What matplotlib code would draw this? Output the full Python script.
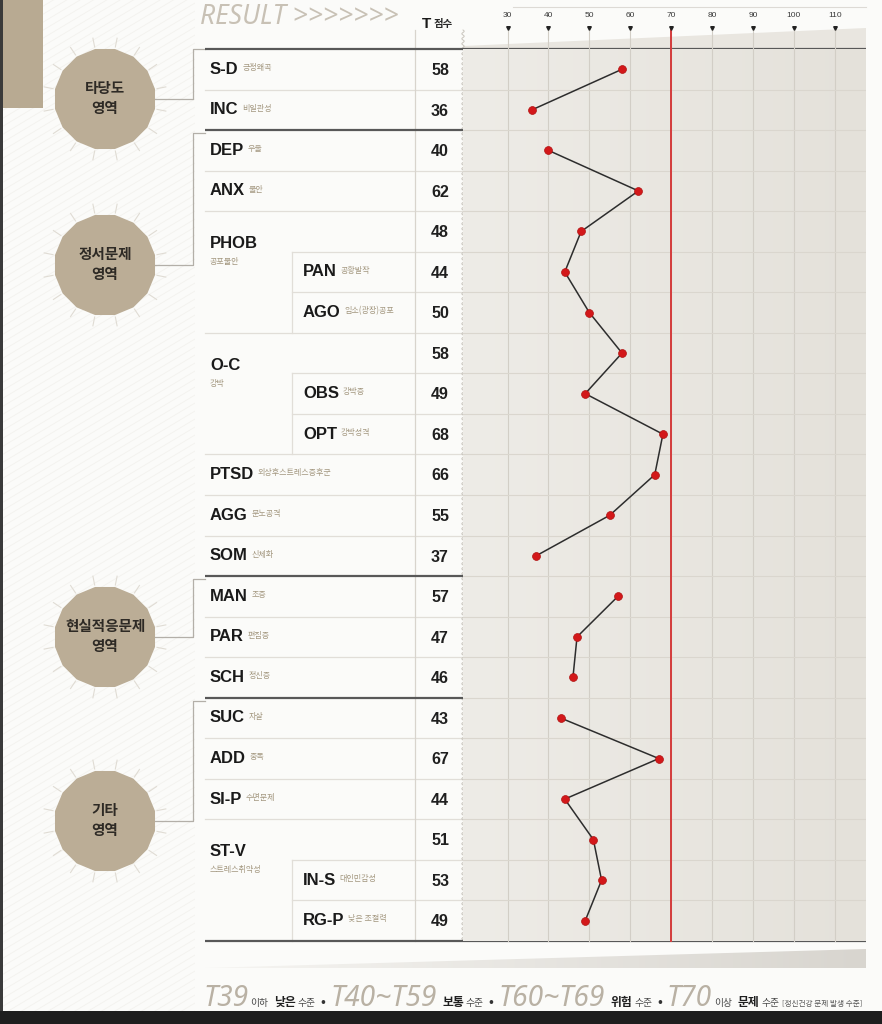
import numpy as np
import matplotlib
matplotlib.use("Agg")
import matplotlib.pyplot as plt
import matplotlib.transforms as mtransforms
from matplotlib.patches import RegularPolygon, Polygon, Rectangle
from matplotlib.colors import LinearSegmentedColormap

plt.rcParams['font.family'] = ['Liberation Sans', 'Noto Sans CJK KR', 'DejaVu Sans']

# ---- data ----
codes = ["S-D", "INC", "DEP", "ANX", "PHOB", "PAN", "AGO", "O-C", "OBS", "OPT",
         "PTSD", "AGG", "SOM", "MAN", "PAR", "SCH", "SUC", "ADD", "SI-P",
         "ST-V", "IN-S", "RG-P"]
names_kr = ["긍정왜곡", "비일관성", "우울", "불안", "공포불안", "공황발작", "임소(광장)공포",
            "강박", "강박증", "강박성격", "외상후스트레스증후군", "분노공격", "신체화",
            "조증", "편집증", "정신증", "자살", "중독", "수면문제",
            "스트레스취약성", "대인민감성", "낮은 조절력"]
t_scores = [58, 36, 40, 62, 48, 44, 50, 58, 49, 68, 66, 55, 37, 57, 47, 46,
            43, 67, 44, 51, 53, 49]
# 0 = plain scale, 1 = parent scale, 2 = sub scale
row_level = [0, 0, 0, 0, 1, 2, 2, 1, 2, 2, 0, 0, 0, 0, 0, 0, 0, 0, 0, 1, 2, 2]
groups = ["타당도\n영역", "정서문제\n영역", "현실적응문제\n영역", "기타\n영역"]
group_sizes = [2, 11, 3, 6]
x_ticks = [30, 40, 50, 60, 70, 80, 90, 100, 110]
cutoff = 70
legend_items = [("T39", "이하", "낮은", "수준"),
                ("T40~T59", "", "보통", "수준"),
                ("T60~T69", "", "위험", "수준"),
                ("T70", "이상", "문제", "수준")]
legend_note = "[정신건강 문제 발생 수준]"

KR = 'Noto Sans CJK KR'
THIN = dict(family=['Noto Sans', 'Roboto', 'DejaVu Sans'], style='italic',
            fontweight='light', fontstretch='condensed')

W, H = 882, 1024
fig = plt.figure(figsize=(W / 100, H / 100), dpi=100)
fig.patch.set_facecolor('#fbfbf9')

# background axes in pixel coords (y down)
bg = fig.add_axes([0, 0, 1, 1])
bg.axis('off')
bg.patch.set_visible(False)

# plot area
ax_l, ax_r, ax_t, ax_b = 463, 866, 49, 941
ax = fig.add_axes([ax_l / W, 1 - ax_b / H, (ax_r - ax_l) / W, (ax_b - ax_t) / H])
ax.axis('off')
ax.patch.set_visible(False)
n = len(codes)
px30, ppu = 507.5, 4.09
xlim = (30 + (ax_l - px30) / ppu, 30 + (ax_r - px30) / ppu)
ylim = (n - 0.5, -0.5)
row_h = (ax_b - ax_t) / n

tab = mtransforms.blended_transform_factory(bg.transData, ax.transData)
vax = mtransforms.blended_transform_factory(ax.transData, ax.transAxes)

# left decoration: faint diagonal stripes, tan block, dark edges
for c in range(0, 1250, 8):
    bg.plot([0, 200], [c, c - 120], color='#ebe8e3', lw=0.6, alpha=0.5, zorder=0)
bg.add_patch(Rectangle((195, 0), 700, 1024, color='#fbfbf9', zorder=0.5, lw=0))
bg.add_patch(Rectangle((3, 0), 40, 108, color='#b8aa92', zorder=1, lw=0))
bg.add_patch(Rectangle((0, 0), 2.5, 1012, color='#3a3a3a', zorder=1, lw=0))
bg.add_patch(Rectangle((0, 1011), W, 13, color='#1e1e1e', zorder=1, lw=0))

# plot background gradient + top wedge
grad = np.linspace(0, 1, 256).reshape(1, -1)
cm_plot = LinearSegmentedColormap.from_list('pbg', ['#eeece7', '#e4e1da'])
ax.imshow(grad, extent=[xlim[0], xlim[1], ylim[0], ylim[1]], aspect='auto',
          cmap=cm_plot, zorder=0)
bg.add_patch(Polygon([(ax_l, 46), (ax_r, 28), (ax_r, ax_t), (ax_l, ax_t)],
                     closed=True, facecolor='#e9e6e0', edgecolor='none', zorder=1))
bg.plot([513, ax_r], [7, 7], color='#dddad5', lw=0.8, zorder=1)

# bottom wedge
wedge = Polygon([(205, 968), (ax_r, 949), (ax_r, 968)], closed=True,
                facecolor='none', edgecolor='none')
bg.add_patch(wedge)
cm_wedge = LinearSegmentedColormap.from_list('wbg', ['#f6f5f2', '#d8d5cf'])
im = bg.imshow(grad, extent=[205, ax_r, 968, 946], aspect='auto', cmap=cm_wedge, zorder=1)
im.set_clip_path(wedge)

# grid in plot area
for v in x_ticks:
    ax.plot([v, v], [0, 1.0235], transform=vax, color='#d2cec6', lw=0.8,
            clip_on=False, zorder=1)
for i in range(1, n):
    ax.axhline(i - 0.5, color='#dad6ce', lw=0.8, zorder=1)
ax.plot([cutoff, cutoff], [0, 1.0235], transform=vax, color='#d43c3c', lw=1.4,
        clip_on=False, zorder=2)
ax.plot(x_ticks, [1.0235] * len(x_ticks), 'v', transform=vax, ms=2.6,
        color='#222222', clip_on=False, zorder=3)
for v in x_ticks:
    ax.text(v, 1.0335, str(v), transform=vax, ha='center', va='bottom',
            fontsize=6, color='#3a3a3a')

# table grid lines
bounds = np.cumsum([0] + group_sizes)
for i in range(1, n):
    if i in bounds:
        continue
    x0 = 292 if row_level[i] == 2 else 205
    bg.plot([x0, ax_l], [i - 0.5, i - 0.5], transform=tab, color='#e1ded8',
            lw=0.9, zorder=2)
i = 0
while i < n:
    if row_level[i] == 2:
        j = i
        while j + 1 < n and row_level[j + 1] == 2:
            j += 1
        bg.plot([292, 292], [i - 0.5, j + 0.5], transform=tab, color='#e1ded8',
                lw=0.9, zorder=2)
        i = j + 1
    else:
        i += 1
for b in bounds:
    bg.plot([205, ax_r], [b - 0.5, b - 0.5], transform=tab, color='#585858',
            lw=1.6, zorder=4, solid_capstyle='butt')

bg.plot([415, 415], [30, ax_b], color='#d8d4cd', lw=0.9, zorder=2)
ys = np.arange(30, ax_b, 0.5)
bg.plot(ax_l + 1.2 * np.sin(ys * 2 * np.pi / 5), ys, color='#c9c5bd', lw=0.7, zorder=3)

# table text
for i in range(n):
    if row_level[i] == 1:
        bg.text(210, i + 0.3, codes[i], transform=tab, ha='left', va='center',
                fontsize=12, fontweight='bold', color='#1a1a1a', zorder=5)
        bg.text(210, i + 0.74, names_kr[i], transform=tab, ha='left', va='center',
                fontsize=5.8, family=KR, color='#a3977f', zorder=5)
    else:
        x0 = 303 if row_level[i] == 2 else 210
        nt = bg.text(x0, i, codes[i], transform=tab, ha='left', va='center',
                     fontsize=12, fontweight='bold', color='#1a1a1a', zorder=5)
        bg.annotate(names_kr[i], xy=(1, 0.62), xycoords=nt, xytext=(2.5, 0),
                    textcoords='offset points', ha='left', va='center',
                    fontsize=5.8, family=KR, color='#a3977f', zorder=5)
    bg.text(440, i + 0.03, str(t_scores[i]), transform=tab, ha='center', va='center',
            fontsize=11.5, fontweight='bold', color='#1f1f1f', zorder=5)

# profile lines and points per domain
rows = np.arange(n)
scores = np.array(t_scores)
for a, b in zip(bounds[:-1], bounds[1:]):
    ax.plot(scores[a:b], rows[a:b], color='#2d2d2d', lw=1.1, zorder=4)
    ax.scatter(scores[a:b], rows[a:b], s=32, color='#d3181a', edgecolors='#b01010',
               linewidths=0.5, zorder=5)

# domain badges with brackets
centers = [(105, 99), (105, 265), (105, 637), (105, 821)]
for g, (cx, cy) in enumerate(centers):
    top = ax_t + bounds[g] * row_h + (0 if g == 0 else 3)
    bg.plot([205, 193, 193, 155], [top, top, cy, cy], color='#b3afa8', lw=0.9, zorder=2)
    for k in range(16):
        ang = k * 2 * np.pi / 16 + np.pi / 16
        bg.plot([cx + 53 * np.cos(ang), cx + 62 * np.cos(ang)],
                [cy + 53 * np.sin(ang), cy + 62 * np.sin(ang)],
                color='#e0dcd4', lw=0.8, zorder=2)
    bg.add_patch(RegularPolygon((cx, cy), numVertices=16, radius=51,
                                orientation=np.pi / 16, facecolor='#bbad96',
                                edgecolor='none', zorder=3))
    bg.text(cx, cy - 1, groups[g], ha='center', va='center', fontsize=10.5,
            family=KR, fontweight='bold', color='#2e2a25', linespacing=1.3, zorder=4)

# header
bg.text(200, 17, "RESULT >>>>>>>", ha='left', va='center', fontsize=19,
        color='#c8c1b5', **THIN)
bg.text(431, 24, "T", ha='right', va='center', fontsize=11, fontweight='bold',
        color='#1a1a1a')
bg.text(434, 24, "점수", ha='left', va='center', fontsize=7.5, family=KR,
        fontweight='bold', color='#2a2a2a')

# level legend at the bottom
styles = {
    'big': dict(fontsize=20.3, color='#b9b1a4', **THIN),
    'small': dict(fontsize=7, family=KR, color='#4a4a4a'),
    'bold': dict(fontsize=8.5, family=KR, fontweight='bold', color='#1f1f1f'),
    'dot': dict(fontsize=9, family=KR, fontweight='bold', color='#333333'),
    'note': dict(fontsize=5.5, family=KR, color='#555555'),
}
pieces = []
for k, (big, pre, word, lvl) in enumerate(legend_items):
    if k > 0:
        pieces.append(("•", 'dot', 3.5))
    pieces.append((big, 'big', 3.5))
    if pre:
        pieces.append((pre, 'small', 1.5))
    pieces.append((word, 'bold', 4))
    pieces.append((lvl, 'small', 1.5))
pieces.append((legend_note, 'note', 2))

y_leg = 1006
prev = bg.text(203, y_leg, pieces[0][0], ha='left', va='baseline', **styles[pieces[0][1]])
for s, st, gap in pieces[1:]:
    prev = bg.annotate(s, xy=(1, y_leg), xycoords=(prev, 'data'), xytext=(gap, 0),
                       textcoords='offset points', ha='left', va='baseline',
                       **styles[st])

bg.set_xlim(0, W)
bg.set_ylim(H, 0)
ax.set_xlim(*xlim)
ax.set_ylim(*ylim)

fig.savefig("out.png", dpi=100, facecolor=fig.get_facecolor())
